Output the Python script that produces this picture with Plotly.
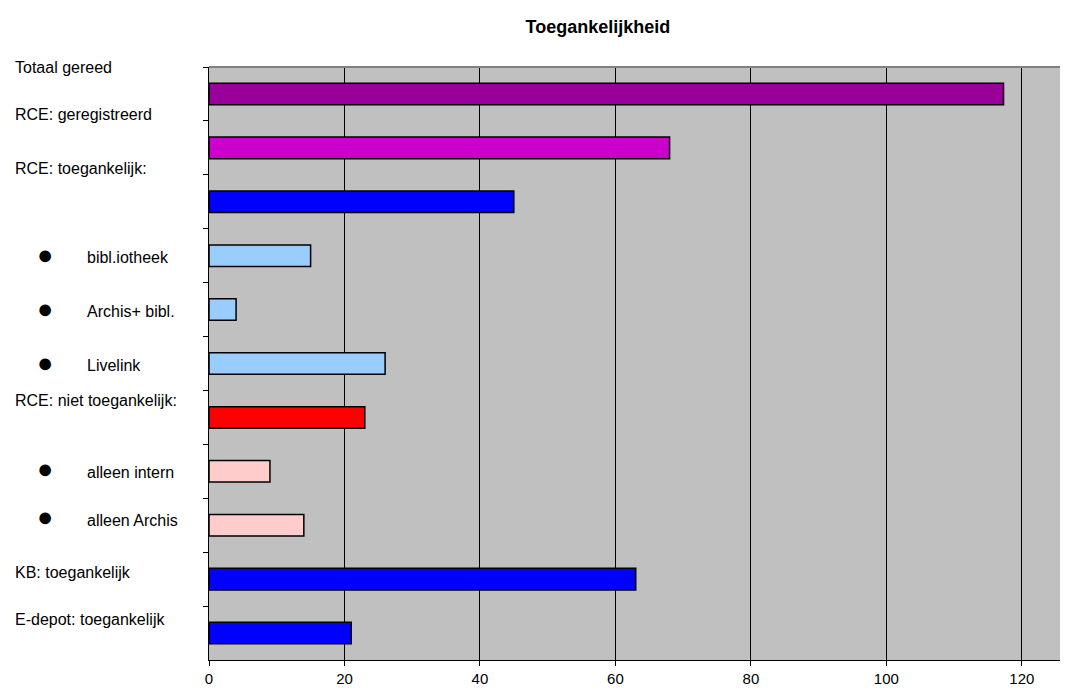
import plotly.graph_objects as go

# Data
categories = [
    "Totaal gereed",
    "RCE: geregistreerd",
    "RCE: toegankelijk:",
    "bibl.iotheek",
    "Archis+ bibl.",
    "Livelink",
    "RCE: niet toegankelijk:",
    "alleen intern",
    "alleen Archis",
    "KB: toegankelijk",
    "E-depot: toegankelijk",
]
values = [117.3, 68, 45, 15, 4, 26, 23, 9, 14, 63, 21]
is_bullet = [False, False, False, True, True, True, False, True, True, False, False]

BAR_COLORS = [
    "#990099", "#CC00CC", "#0000FF", "#99CCFF", "#99CCFF", "#99CCFF",
    "#FF0000", "#FFCCCC", "#FFCCCC", "#0000FF", "#0000FF",
]
# label offsets (px) relative to the bar centre, as in the original layout
LABEL_SHIFT = [26, 33, 33, -2, -2, -2, 17, -1, 5, 7, 14]

FONT = "Liberation Sans, Arial, sans-serif"

fig = go.Figure()
fig.add_trace(go.Bar(
    x=values,
    y=categories,
    orientation="h",
    width=0.4,
    marker=dict(color=BAR_COLORS, line=dict(color="black", width=1.5)),
    hoverinfo="x+y",
))

for cat, bullet, shift in zip(categories, is_bullet, LABEL_SHIFT):
    fig.add_annotation(
        x=-0.1430 if bullet else -0.2261, xref="paper", xanchor="left",
        y=cat, yref="y", yshift=shift, showarrow=False,
        text=cat, font=dict(family=FONT, size=16, color="black"),
    )
    if bullet:
        fig.add_annotation(
            x=-0.1892, xref="paper", xanchor="center",
            y=cat, yref="y", yshift=shift + 3, showarrow=False,
            text="\u25CF", font=dict(family=FONT, size=27, color="black"),
        )

fig.add_shape(type="line", xref="paper", yref="paper", x0=0, x1=1, y0=1, y1=1,
              line=dict(color="#808080", width=2))

# plot area runs off the right edge of the window, as in the original
fig.update_layout(
    width=1068, height=682,
    margin=dict(l=201, r=0, t=59, b=30),
    paper_bgcolor="white",
    plot_bgcolor="#C0C0C0",
    showlegend=False,
    bargap=0.6,
    title=dict(text="<b>Toegankelijkheid</b>", x=0.5524, xanchor="center",
               y=0.972, yanchor="middle",
               font=dict(family=FONT, size=18, color="black")),
    font=dict(family=FONT, size=14, color="black"),
)
fig.update_xaxes(
    range=[0, 128.0], tick0=0, dtick=20,
    showgrid=True, gridcolor="black", gridwidth=1,
    zeroline=False, showline=True, linecolor="black", linewidth=1,
    ticks="outside", ticklen=5, tickcolor="black",
    tickfont=dict(family=FONT, size=15, color="black"),
)
fig.update_yaxes(
    autorange="reversed", showticklabels=False,
    tickson="boundaries", ticks="outside", ticklen=5, tickcolor="black",
    showgrid=False, showline=True, linecolor="black", linewidth=1,
)

fig.write_html("out.html")
